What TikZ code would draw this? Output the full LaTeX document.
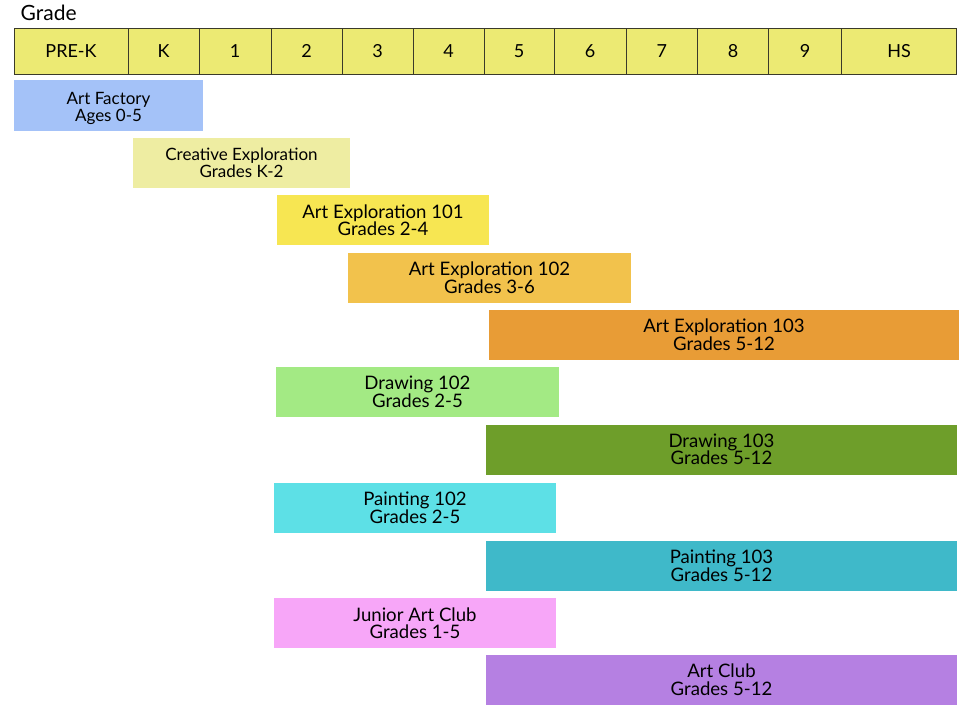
\documentclass[tikz,border=0pt]{standalone}
\usepackage{fontspec}
\setmainfont{Lato}
\definecolor{hdr}{HTML}{ECEA73}
\definecolor{hdrline}{HTML}{3A3A2A}
\definecolor{cAF}{HTML}{A4C2F8}
\definecolor{cCE}{HTML}{EEEDA2}
\definecolor{cAEa}{HTML}{F7E652}
\definecolor{cAEb}{HTML}{F2C24C}
\definecolor{cAEc}{HTML}{E89C36}
\definecolor{cDRb}{HTML}{A3EA84}
\definecolor{cDRc}{HTML}{6E9E2A}
\definecolor{cPAb}{HTML}{5DE0E6}
\definecolor{cPAc}{HTML}{3FB9C9}
\definecolor{cJAC}{HTML}{F7A6F8}
\definecolor{cAC}{HTML}{B580E2}
\tikzset{
  cell/.style={font=\fontsize{18}{20}\selectfont, text=black, draw=hdrline, line width=0.9pt,
    fill=hdr, anchor=north west, minimum height=46pt, inner sep=0pt, outer sep=0pt},
  bar/.style={font=\fontsize{18.6}{17.5}\selectfont, text=black, align=center,
    anchor=north west, inner sep=0pt, outer sep=0pt, minimum height=50pt},
  smallbar/.style={bar, font=\fontsize{17}{17.5}\selectfont},
  smalltext/.style={font=\fontsize{17}{17.7}\selectfont, text=black, align=center, inner sep=0pt},
}
\begin{document}
\begin{tikzpicture}[x=1pt,y=-1pt]
\useasboundingbox[fill=white] (0,0) rectangle (970,724);
\node[anchor=base west, inner sep=0pt, font=\fontsize{21}{22}\selectfont] (grade) at (20.5,20) {Grade};
\foreach \xa/\xb/\lab/\nm in {14/128/PRE-K/g0, 128/199/K/g1, 199/271/1/g2, 271/342/2/g3,
  342/413/3/g4, 413/484/4/g5, 484/554.3/5/g6, 554.3/626/6/g7, 626/697.7/7/g8,
  697.7/768.3/8/g9, 768.3/841.7/9/g10, 841.7/956.7/HS/g11}
{
  \pgfmathsetmacro{\w}{\xb-\xa}
  \node[cell, minimum width=\w pt] (\nm) at (\xa,28) {\lab};
}
\node[smallbar, fill=cAF, minimum width=189pt, minimum height=51pt] (af) at (14,80) {};
\node[smalltext, yshift=-3pt] (aftext) at (af.center) {Art Factory\\Ages 0-5};
\node[smallbar, fill=cCE, minimum width=217pt] (ce) at (133,138) {Creative Exploration\\Grades K-2};
\node[bar, fill=cAEa, minimum width=212pt] (aea) at (277,195) {Art Exploration 101\\Grades 2-4};
\node[bar, fill=cAEb, minimum width=283pt] (aeb) at (348,252.5) {Art Exploration 102\\Grades 3-6};
\node[bar, fill=cAEc, minimum width=470pt] (aec) at (489,309.5) {Art Exploration 103\\Grades 5-12};
\node[bar, fill=cDRb, minimum width=283pt] (drb) at (276,367) {Drawing 102\\Grades 2-5};
\node[bar, fill=cDRc, minimum width=471pt] (drc) at (486,424.5) {Drawing 103\\Grades 5-12};
\node[bar, fill=cPAb, minimum width=282pt] (pab) at (274,482.5) {Painting 102\\Grades 2-5};
\node[bar, fill=cPAc, minimum width=471pt] (pac) at (486,540.5) {Painting 103\\Grades 5-12};
\node[bar, fill=cJAC, minimum width=282pt] (jac) at (274,598) {Junior Art Club\\Grades 1-5};
\node[bar, fill=cAC, minimum width=471pt] (ac) at (486,654.5) {Art Club\\Grades 5-12};
\end{tikzpicture}
\end{document}
